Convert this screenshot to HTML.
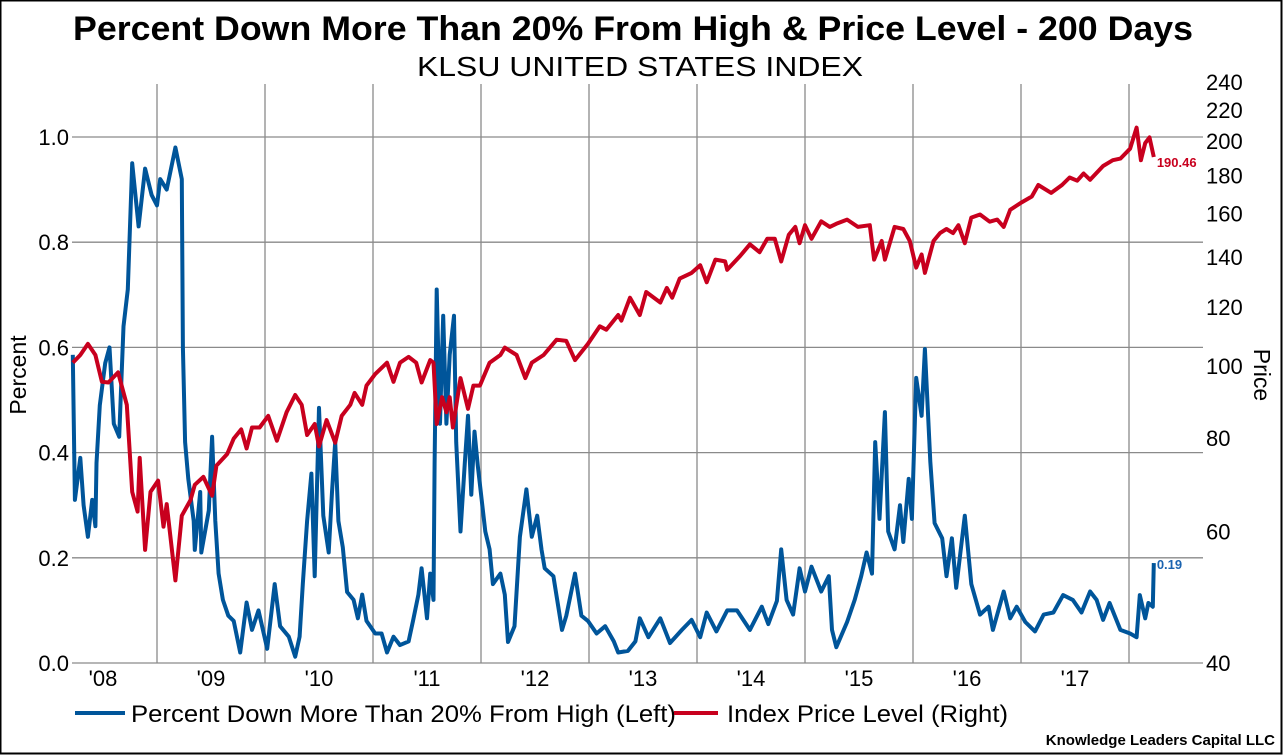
<!DOCTYPE html>
<html><head><meta charset="utf-8"><style>
html,body{margin:0;padding:0;background:#fff;}
svg{display:block;font-family:"Liberation Sans",sans-serif;}
</style></head><body>
<svg id="chart" width="1283" height="755" viewBox="0 0 1283 755">
<rect x="0" y="0" width="1283" height="755" fill="#fff"/>
<rect x="0.5" y="0.5" width="1281" height="753" fill="none" stroke="#000" stroke-width="2"/>
<text x="73" y="40" font-size="34" font-weight="bold" textLength="1120" lengthAdjust="spacingAndGlyphs">Percent Down More Than 20% From High &amp; Price Level - 200 Days</text>
<text x="417" y="76" font-size="28" textLength="446" lengthAdjust="spacingAndGlyphs">KLSU UNITED STATES INDEX</text>
<g id="grid"></g>
<g id="ticks"></g>
<text transform="translate(26,375) rotate(-90)" text-anchor="middle" font-size="23">Percent</text>
<text transform="translate(1254,375) rotate(90)" text-anchor="middle" font-size="23">Price</text>
<g id="series"></g>
<g>
<line x1="75" y1="713" x2="125" y2="713" stroke="#00559A" stroke-width="4"/>
<text x="131" y="722" font-size="24" textLength="545" lengthAdjust="spacingAndGlyphs">Percent Down More Than 20% From High (Left)</text>
<line x1="674" y1="713" x2="718" y2="713" stroke="#C8001E" stroke-width="4"/>
<text x="727" y="722" font-size="24" textLength="281" lengthAdjust="spacingAndGlyphs">Index Price Level (Right)</text>
</g>
<text x="1275" y="745" text-anchor="end" font-size="15" font-weight="bold">Knowledge Leaders Capital LLC</text>
</svg>
<script>
const pctDates=[2007.72,2007.74,2007.79,2007.82,2007.86,2007.90,2007.93,2007.94,2007.97,2008.02,2008.06,2008.10,2008.15,2008.19,2008.23,2008.26,2008.27,2008.33,2008.39,2008.45,2008.50,2008.53,2008.59,2008.67,2008.73,2008.74,2008.76,2008.79,2008.84,2008.85,2008.90,2008.91,2008.98,2009.01,2009.04,2009.07,2009.11,2009.16,2009.21,2009.27,2009.33,2009.38,2009.44,2009.52,2009.59,2009.64,2009.72,2009.78,2009.82,2009.85,2009.89,2009.93,2009.96,2010.00,2010.04,2010.09,2010.12,2010.15,2010.18,2010.22,2010.26,2010.32,2010.36,2010.40,2010.44,2010.52,2010.58,2010.63,2010.69,2010.75,2010.83,2010.87,2010.92,2010.95,2011.00,2011.03,2011.06,2011.07,2011.09,2011.12,2011.15,2011.18,2011.21,2011.25,2011.27,2011.31,2011.35,2011.38,2011.41,2011.44,2011.47,2011.54,2011.58,2011.61,2011.68,2011.72,2011.75,2011.81,2011.86,2011.92,2011.97,2012.02,2012.06,2012.09,2012.17,2012.25,2012.29,2012.37,2012.43,2012.49,2012.57,2012.65,2012.73,2012.77,2012.86,2012.93,2012.97,2013.05,2013.16,2013.25,2013.36,2013.45,2013.53,2013.59,2013.68,2013.78,2013.87,2013.99,2014.10,2014.16,2014.24,2014.28,2014.33,2014.39,2014.45,2014.50,2014.56,2014.65,2014.72,2014.75,2014.79,2014.89,2014.96,2015.02,2015.07,2015.12,2015.15,2015.19,2015.24,2015.27,2015.33,2015.38,2015.41,2015.46,2015.49,2015.53,2015.58,2015.61,2015.66,2015.70,2015.77,2015.81,2015.86,2015.90,2015.98,2016.04,2016.12,2016.20,2016.24,2016.34,2016.40,2016.46,2016.54,2016.63,2016.71,2016.80,2016.89,2016.98,2017.06,2017.14,2017.20,2017.26,2017.32,2017.42,2017.51,2017.57,2017.60,2017.65,2017.68,2017.72,2017.73];
const pctValues=[0.586,0.31,0.39,0.30,0.24,0.31,0.26,0.38,0.49,0.57,0.60,0.455,0.43,0.64,0.71,0.89,0.95,0.83,0.94,0.89,0.87,0.92,0.90,0.98,0.92,0.60,0.42,0.35,0.27,0.215,0.325,0.21,0.29,0.43,0.27,0.17,0.12,0.09,0.08,0.02,0.115,0.063,0.10,0.027,0.15,0.07,0.05,0.012,0.05,0.15,0.27,0.36,0.165,0.485,0.28,0.21,0.325,0.42,0.27,0.22,0.135,0.12,0.085,0.13,0.08,0.056,0.056,0.02,0.05,0.034,0.041,0.08,0.13,0.18,0.085,0.17,0.12,0.38,0.71,0.455,0.66,0.455,0.586,0.66,0.42,0.25,0.38,0.47,0.32,0.44,0.375,0.25,0.216,0.15,0.17,0.13,0.04,0.07,0.24,0.33,0.24,0.28,0.216,0.18,0.165,0.063,0.09,0.17,0.09,0.08,0.056,0.07,0.041,0.02,0.023,0.041,0.085,0.049,0.085,0.038,0.063,0.082,0.049,0.096,0.06,0.10,0.10,0.063,0.107,0.074,0.118,0.216,0.12,0.092,0.18,0.136,0.183,0.136,0.165,0.063,0.03,0.078,0.12,0.165,0.21,0.17,0.42,0.274,0.477,0.25,0.216,0.30,0.23,0.35,0.274,0.542,0.47,0.597,0.383,0.266,0.237,0.165,0.237,0.143,0.28,0.15,0.092,0.107,0.063,0.136,0.085,0.107,0.078,0.06,0.092,0.096,0.129,0.12,0.096,0.136,0.12,0.082,0.114,0.063,0.056,0.049,0.129,0.085,0.114,0.107,0.19];
const priceDates=[2007.72,2007.79,2007.86,2007.93,2007.99,2008.05,2008.14,2008.22,2008.27,2008.32,2008.34,2008.39,2008.44,2008.51,2008.56,2008.59,2008.67,2008.73,2008.81,2008.85,2008.93,2009.01,2009.05,2009.15,2009.21,2009.28,2009.33,2009.38,2009.45,2009.53,2009.61,2009.70,2009.78,2009.84,2009.89,2009.96,2010.00,2010.07,2010.15,2010.21,2010.29,2010.33,2010.40,2010.44,2010.52,2010.63,2010.69,2010.75,2010.83,2010.90,2010.95,2011.03,2011.06,2011.09,2011.14,2011.18,2011.21,2011.24,2011.31,2011.38,2011.43,2011.49,2011.58,2011.68,2011.72,2011.83,2011.91,2011.97,2012.08,2012.20,2012.29,2012.37,2012.49,2012.60,2012.66,2012.77,2012.80,2012.88,2012.97,2013.03,2013.16,2013.22,2013.27,2013.34,2013.45,2013.53,2013.59,2013.67,2013.76,2013.78,2013.90,2013.99,2014.08,2014.15,2014.22,2014.28,2014.35,2014.41,2014.45,2014.50,2014.56,2014.65,2014.73,2014.79,2014.89,2014.99,2015.10,2015.14,2015.21,2015.24,2015.33,2015.41,2015.47,2015.53,2015.58,2015.61,2015.69,2015.75,2015.81,2015.87,2015.92,2015.98,2016.04,2016.12,2016.21,2016.28,2016.34,2016.40,2016.51,2016.60,2016.66,2016.78,2016.88,2016.95,2017.02,2017.08,2017.14,2017.26,2017.35,2017.42,2017.51,2017.57,2017.61,2017.65,2017.69,2017.73];
const priceValues=[101,103.4,107,103.4,95.2,95,98,88.7,67.8,63.8,75.3,56.7,67.8,70.2,60.9,65.3,51.6,63,66.1,69.3,71,67,73.5,76.2,79.9,82.2,77.5,82.7,82.7,85.7,79.4,86.7,91.4,88.7,80.8,83.6,78,84.6,78.9,85.7,88.7,92,88.7,94.1,97.5,101,95.2,101,102.8,101,95,101.8,101,83.6,90.8,86.7,90.8,82.7,96.3,87.6,94.1,94.1,101,103.4,105.8,103.4,96.3,101,103.4,108.4,108,101.8,107,113,111.8,117,115,123.4,117,125.6,121.6,127.2,123.4,130.9,133.2,136.4,129.4,138.8,138,134.5,140.4,145.5,142,148,148,138,149.8,153.5,146,154.3,148,156.2,153.5,155,157,153.5,154.3,138.8,147,138.8,153.5,152.5,147,135.4,141,133.2,147,150.6,152.5,150.6,154.3,146,158,159.5,156,157,153.5,161.8,165.7,168.6,174.7,170.5,174.7,178.8,177,181,177.5,185.2,188.6,189.5,195.4,208.5,188.6,198.8,202.3,190.46];
const yearLabels=["'08","'09","'10","'11","'12","'13","'14","'15","'16","'17"];
const pctTicks=[0,0.2,0.4,0.6,0.8,1.0];
const priceTicks=[40,60,80,100,120,140,160,180,200,220,240];

const NS="http://www.w3.org/2000/svg";
const L=72,R=1203,T=84,B=663;
function xScale(t){return 103+(t-2008)*108;}
function yPct(v){return B-v*526;}
function yPrice(p){return B-Math.log(p/40)/Math.log(6)*581;}
function mk(tag,attrs,parent){const e=document.createElementNS(NS,tag);for(const k in attrs)e.setAttribute(k,attrs[k]);parent.appendChild(e);return e;}
const grid=document.getElementById('grid'),ticks=document.getElementById('ticks'),series=document.getElementById('series');
pctTicks.forEach(v=>{
  const g=mk('line',{x1:L,x2:R,y1:yPct(v),y2:yPct(v),stroke:'#8a8a8a','stroke-width':1.3},grid);
  
  
  const t=mk('text',{x:69,y:yPct(v)+8,'text-anchor':'end','font-size':22},ticks);
  t.textContent=v.toFixed(1);
  
  
});
yearLabels.forEach((lab,i)=>{
  const gx=xScale(2008+i)+54;
  const g=mk('line',{x1:gx,x2:gx,y1:T,y2:B,stroke:'#8a8a8a','stroke-width':1.3},grid);
  
  
  const t=mk('text',{x:xScale(2008+i),y:686,'text-anchor':'middle','font-size':22},ticks);
  t.textContent=lab;
  
  
});
priceTicks.forEach(p=>{
  const t=mk('text',{x:1206,y:yPrice(p)+8,'font-size':22},ticks);
  t.textContent=p;
  
  
});
function path(d,v,ys,color,name){
  const s=d.map((t,i)=>(i?'L':'M')+xScale(t).toFixed(1)+','+ys(v[i]).toFixed(1)).join('');
  const p=mk('path',{d:s,fill:'none',stroke:color,'stroke-width':4,'stroke-linejoin':'round'},series);
  
  
}
path(pctDates,pctValues,yPct,'#00559A','percent-line');
path(priceDates,priceValues,yPrice,'#C8001E','price-line');
const lp=mk('text',{x:xScale(priceDates[priceDates.length-1])+3,y:yPrice(priceValues[priceValues.length-1])+10,'font-size':13,'font-weight':'bold',fill:'#C8001E'},series);
lp.textContent=priceValues[priceValues.length-1].toFixed(2);


const lb=mk('text',{x:xScale(pctDates[pctDates.length-1])+3,y:yPct(pctValues[pctValues.length-1])+6,'font-size':13,'font-weight':'bold',fill:'#1a63b0'},series);
lb.textContent=pctValues[pctValues.length-1].toFixed(2);


</script>
</body></html>
